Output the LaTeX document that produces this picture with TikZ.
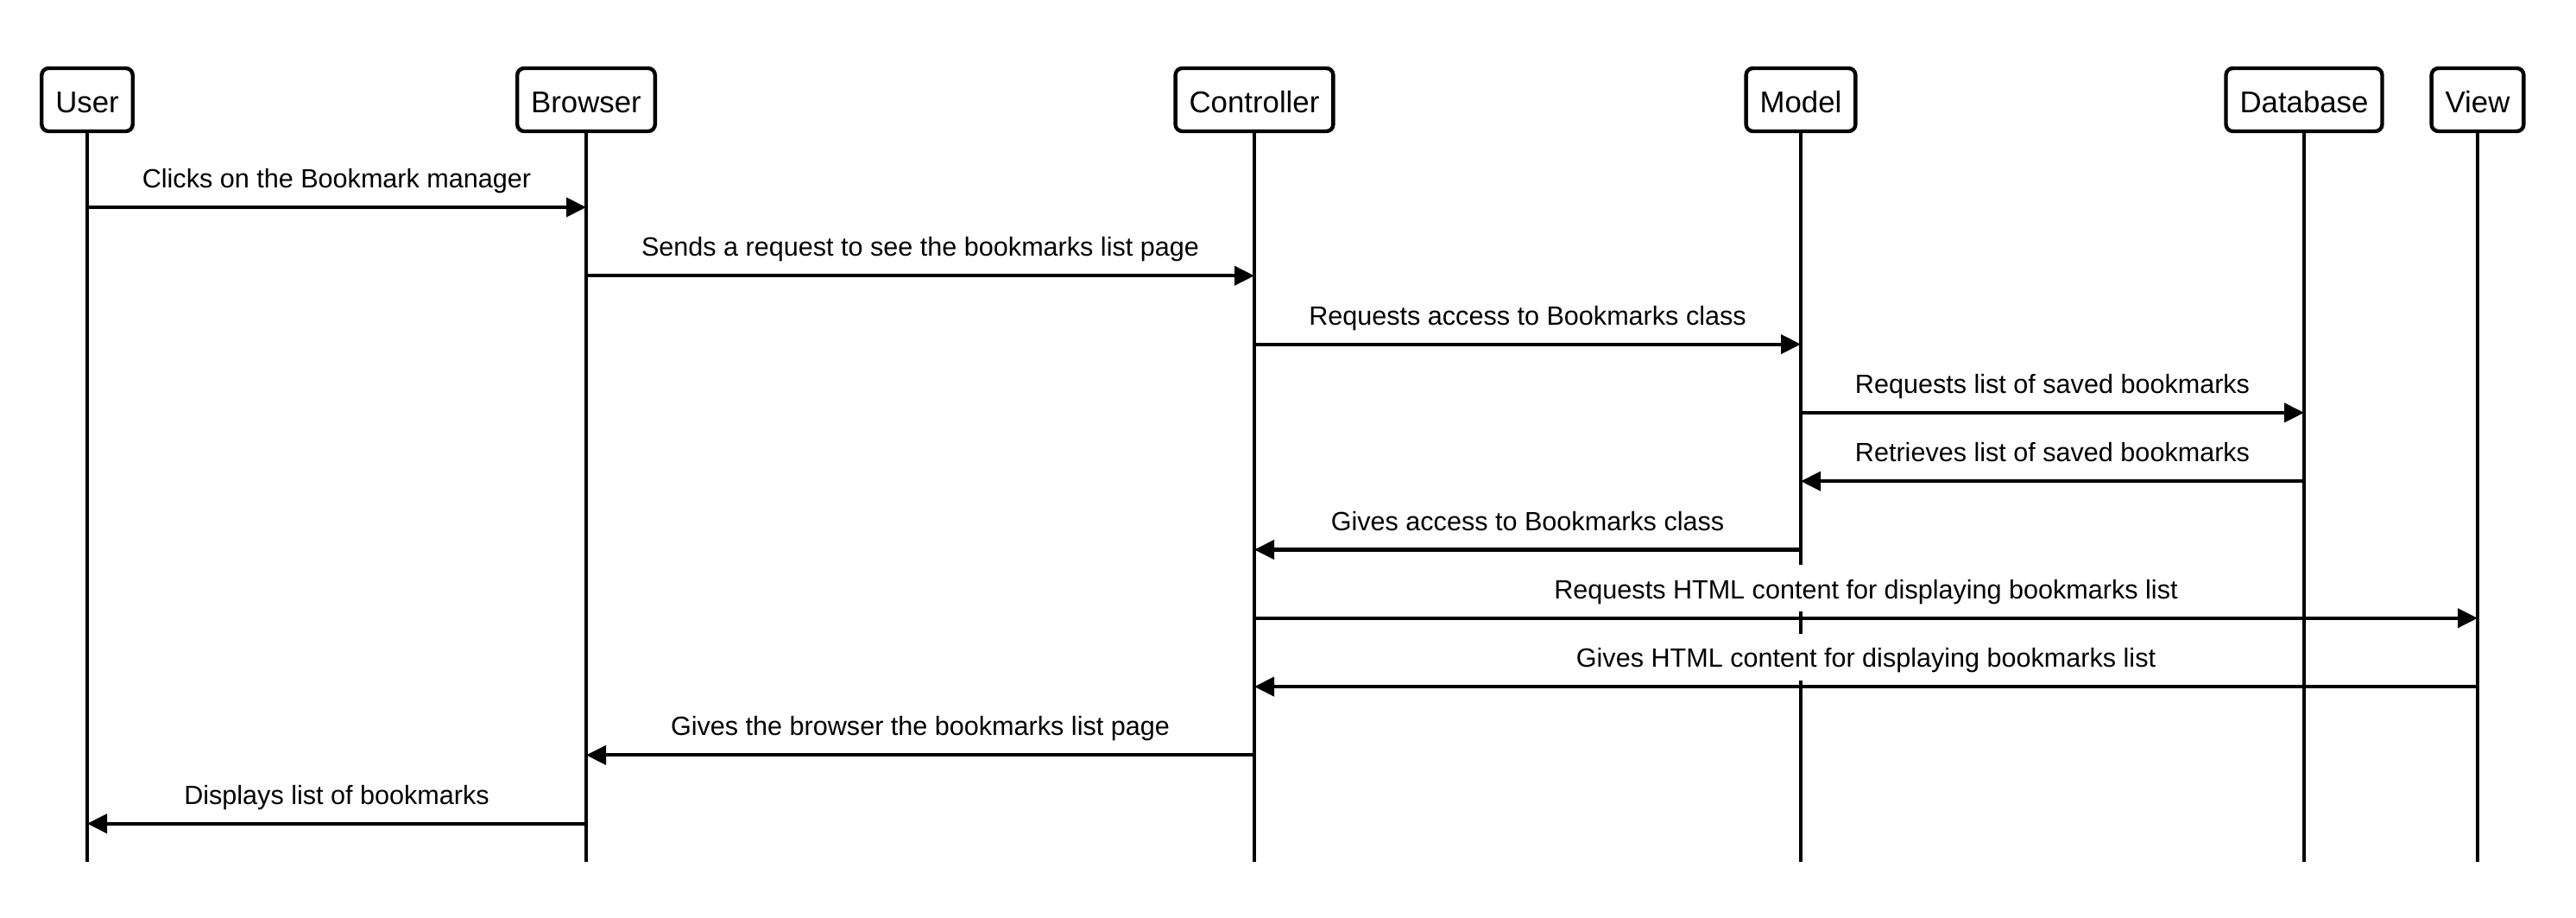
\documentclass[tikz,border=0pt]{standalone}
\usepackage{fontspec}
\setmainfont{Liberation Sans}
\usetikzlibrary{arrows.meta}
\tikzset{actor/.style={draw, line width=1.25pt, rounded corners=0.08cm,
         inner xsep=0.16cm, minimum height=0.73cm, text height=0.29cm, text depth=0cm,
         font=\fontsize{9.9}{12}\selectfont},
         lifeline/.style={line width=1pt},
         msg/.style={line width=1.15pt, -{Triangle[length=0.23cm,width=0.22cm]}},
         msglabel/.style={fill=white, anchor=base, yshift=0.225cm,
         inner xsep=0.05cm, inner ysep=0.08cm, text height=0.31cm, text depth=0.07cm,
         font=\fontsize{8.7}{10.4}\selectfont}}

\begin{document}
\begin{tikzpicture}
  \useasboundingbox (0,0) rectangle (29.84,-10.62);

  \node[actor] (user) at (1.01,-1.155) {User};
  \node[actor] (browser) at (6.79,-1.155) {Browser};
  \node[actor] (controller) at (14.53,-1.155) {Controller};
  \node[actor] (model) at (20.86,-1.155) {Model};
  \node[actor] (database) at (26.69,-1.155) {Database};
  \node[actor] (view) at (28.70,-1.155) {View};

  \foreach \n in {user,browser,controller,model,database,view} {
    \coordinate (\n-end) at (\n |- 0,-9.98);
    \draw[lifeline] (\n) -- (\n-end);
  }

  \foreach \from/\to/\txt [count=\i] in {
      user/browser/Clicks on the Bookmark manager,
      browser/controller/Sends a request to see the bookmarks list page,
      controller/model/Requests access to Bookmarks class,
      model/database/Requests list of saved bookmarks,
      database/model/Retrieves list of saved bookmarks,
      model/controller/Gives access to Bookmarks class,
      controller/view/Requests HTML content for displaying bookmarks list,
      view/controller/Gives HTML content for displaying bookmarks list,
      controller/browser/Gives the browser the bookmarks list page,
      browser/user/Displays list of bookmarks} {
    \pgfmathsetmacro\msgy{-2.40-0.793*(\i-1)}
    \draw[msg] (\from |- 0,\msgy) -- node[msglabel] {\txt} (\to |- 0,\msgy);
  }

\end{tikzpicture}
\end{document}
